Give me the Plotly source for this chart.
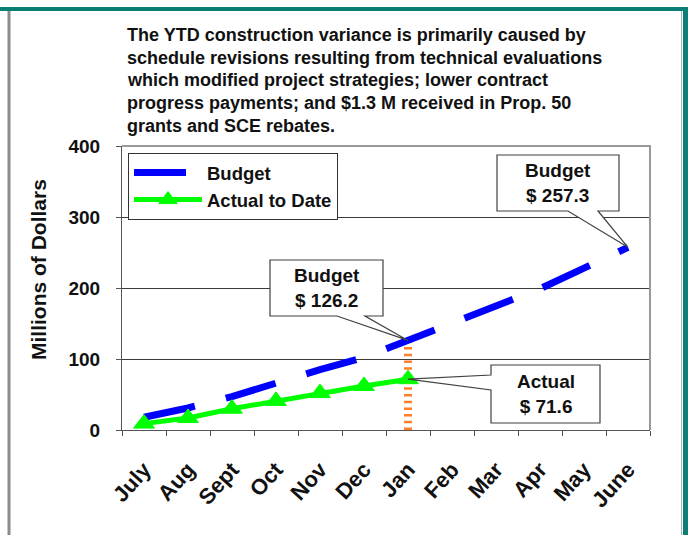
import plotly.graph_objects as go

# ---------------- data ----------------
months = ["July", "Aug", "Sept", "Oct", "Nov", "Dec", "Jan", "Feb", "Mar", "Apr", "May", "June"]
budget = [18, 31, 47, 67, 85, 102, 126.2, 150, 174, 199, 228, 257.3]
actual = [9, 17, 30, 41, 52, 62, 71.6]
y_ticks = [0, 100, 200, 300, 400]
current_month = "Jan"
budget_name = "Budget"
actual_name = "Actual to Date"
y_title = "Millions of Dollars"
title_lines = [
    "The YTD construction variance is primarily caused by",
    "schedule revisions resulting from technical evaluations",
    "which modified project strategies; lower contract",
    "progress payments; and $1.3 M received in Prop. 50",
    "grants and SCE rebates.",
]

# ---------------- geometry ----------------
W, H = 688, 535
L, R, T, B = 122, 38, 146, 105
PW, PH = W - L - R, H - T - B
FONT = "Arial, Liberation Sans, sans-serif"
N = len(months)
YMAX = y_ticks[-1]


def fx(px):  # pixel -> paper x
    return (px - L) / PW


def fy(py):  # pixel -> paper y
    return (H - B - py) / PH


def dx(px):  # pixel -> category index
    return (px - L) / PW * N - 0.5


def dy(py):  # pixel -> data value
    return (H - B - py) / PH * YMAX


cur = months.index(current_month)

fig = go.Figure()

# orange dotted marker line at the current month
fig.add_trace(go.Scatter(
    x=[current_month, current_month], y=[budget[cur], 0],
    mode="lines", line=dict(color="#FF7F2A", width=8, dash="2.5px,4.2px"),
    showlegend=False, hoverinfo="skip"))

fig.add_trace(go.Scatter(
    x=months, y=budget, name=budget_name, mode="lines",
    line=dict(color="#0000FF", width=7, dash="52px,32px")))

fig.add_trace(go.Scatter(
    x=months[:len(actual)], y=actual, name=actual_name, mode="lines+markers",
    line=dict(color="#00FF00", width=5),
    marker=dict(symbol="triangle-up", size=18, color="#00FF00",
                line=dict(color="#00FF00", width=1))))

shapes = []
annotations = []


def callout(verts_px, tip, text, center_px):
    pts = []
    for v in verts_px:
        if v == "tip":
            pts.append((tip[0], tip[1]))
        else:
            pts.append((dx(v[0]), dy(v[1])))
    path = "M " + " L ".join(f"{a},{b}" for a, b in pts) + " Z"
    shapes.append(dict(type="path", xref="x", yref="y", path=path,
                       fillcolor="white", line=dict(color="#404040", width=1.2),
                       layer="above"))
    annotations.append(dict(xref="paper", yref="paper", x=fx(center_px[0]), y=fy(center_px[1]),
                            text=text, showarrow=False, xanchor="center", yanchor="middle",
                            font=dict(family=FONT, size=19, color="#111", weight="bold")))


last = N - 1
callout([(497, 155), (619, 155), (619, 211), (598, 211), "tip", (568, 211), (497, 211)],
        (last, budget[last]), f"Budget<br>$ {budget[last]}", (558, 183))
callout([(270, 260), (383, 260), (383, 316), (365, 316), "tip", (337, 316), (270, 316)],
        (cur, budget[cur]), f"Budget<br>$ {budget[cur]}", (326.5, 288))
callout([(491, 365), (600, 365), (600, 423), (491, 423), (491, 390), "tip", (491, 375)],
        (cur, actual[cur]), f"Actual<br>$ {actual[cur]}", (545.5, 394))

# plot border (top and right, gray)
shapes.append(dict(type="path", xref="paper", yref="paper", path="M 0,1 L 1,1 L 1,0",
                   line=dict(color="#9a9a9a", width=2), layer="above"))

# outer frame decorations
shapes.append(dict(type="rect", xref="paper", yref="paper", x0=fx(0), x1=fx(688), y0=fy(7), y1=fy(11),
                   fillcolor="#0B7F77", line=dict(width=0), layer="above"))
shapes.append(dict(type="rect", xref="paper", yref="paper", x0=fx(683), x1=fx(689), y0=fy(7), y1=fy(536),
                   fillcolor="#0B7F77", line=dict(width=0), layer="above"))
shapes.append(dict(type="line", xref="paper", yref="paper", x0=fx(9), x1=fx(9), y0=fy(11), y1=fy(536),
                   line=dict(color="#8c8c8c", width=3), layer="above"))
shapes.append(dict(type="line", xref="paper", yref="paper", x0=fx(681.5), x1=fx(681.5), y0=fy(11), y1=fy(536),
                   line=dict(color="#b0b0b0", width=1), layer="above"))

# title lines
for i, line in enumerate(title_lines):
    annotations.append(dict(xref="paper", yref="paper", x=fx(125), y=fy(35 + 22.75 * i),
                            text=line, showarrow=False, xanchor="left", yanchor="middle",
                            font=dict(family=FONT, size=18, color="#111", weight="bold")))

# y-axis title
annotations.append(dict(xref="paper", yref="paper", x=fx(38), y=fy(270), text=y_title,
                        textangle=-90, showarrow=False, xanchor="center", yanchor="middle",
                        font=dict(family=FONT, size=21, color="#111", weight="bold")))

fig.update_layout(
    width=W, height=H,
    margin=dict(l=L, r=R, t=T, b=B),
    paper_bgcolor="white", plot_bgcolor="white",
    hovermode=False,
    shapes=shapes, annotations=annotations,
    legend=dict(x=fx(128), y=fy(153), xanchor="left", yanchor="top",
                bgcolor="white", bordercolor="#333", borderwidth=1,
                font=dict(family=FONT, size=18.5, color="#111", weight="bold"),
                itemwidth=68, tracegroupgap=0),
    xaxis=dict(type="category", categoryorder="array", categoryarray=months,
               range=[-0.5, N - 0.5], showline=True, linecolor="#555", linewidth=1,
               ticks="outside", tickson="boundaries", ticklen=5, tickcolor="#555",
               tickangle=-48, ticklabelstandoff=17,
               tickfont=dict(family=FONT, size=22, color="#111", weight="bold"),
               showgrid=False, zeroline=False),
    yaxis=dict(range=[0, YMAX], tickvals=y_ticks, showline=True, linecolor="#555", linewidth=1,
               ticks="outside", ticklen=5, tickcolor="#555", ticklabelstandoff=12,
               tickfont=dict(family=FONT, size=19, color="#111", weight="bold"),
               showgrid=True, gridcolor="#3a3a3a", gridwidth=1, zeroline=False),
)

fig.write_html("out.html", config={"displayModeBar": False},
               post_script="document.body.style.margin='0';")
